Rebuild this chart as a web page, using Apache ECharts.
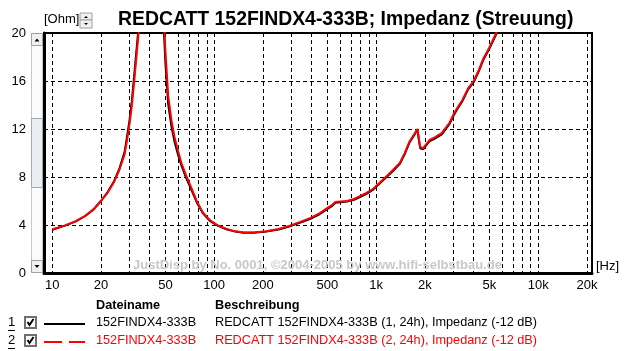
<!DOCTYPE html>
<html>
<head>
<meta charset="utf-8">
<script src="https://cdn.jsdelivr.net/npm/echarts@6/dist/echarts.min.js"></script>
<style>
  html, body { margin: 0; padding: 0; background: #fff; }
  #chart { width: 624px; height: 351px; }
</style>
</head>
<body>
<div id="chart"></div>
<script>
// Messpunkte (Hz)
var freqHz = [10, 12, 14, 16, 18, 20, 22, 24, 26, 28, 29, 30, 31, 32, 33, 34, 36, 39, 42, 45,
  48, 50, 52, 54.5, 57, 60, 63, 67, 72, 78, 85, 94, 105, 119, 135, 152, 175, 210, 250, 290,
  340, 390, 440, 495, 530, 560, 600, 660, 730, 800, 870, 960, 1050, 1160, 1270, 1400, 1500,
  1610, 1720, 1800, 1830, 1870, 1950, 2000, 2140, 2300, 2540, 2830, 3000, 3150, 3400, 3700,
  4000, 4300, 4600, 5000, 5600, 6200];
// Impedanz Messung 1 (schwarz)
var ohm1 = [3.6, 3.95, 4.3, 4.75, 5.3, 6.0, 6.75, 7.6, 8.7, 10.1, 11.4, 12.7, 14.3, 16.3, 18.3, 20.2, 24.5, 30, 32, 29,
  22.5, 17.5, 14.1, 12.2, 10.9, 9.8, 8.9, 7.95, 7.0, 5.9, 5.0, 4.35, 3.95, 3.65, 3.45, 3.36, 3.35, 3.45, 3.62, 3.88,
  4.2, 4.5, 4.85, 5.3, 5.55, 5.85, 5.9, 5.95, 6.1, 6.35, 6.6, 6.95, 7.45, 8.0, 8.5, 9.1, 9.9,
  10.9, 11.5, 11.95, 11.2, 10.4, 10.3, 10.5, 11.0, 11.2, 11.55, 12.4, 13.1, 13.6, 14.3, 15.3,
  15.9, 16.8, 17.8, 18.7, 20.1, 21.2];
// Impedanz Messung 2 (rot)
var ohm2 = [3.62, 3.97, 4.32, 4.77, 5.3, 6.0, 6.7, 7.55, 8.6, 9.9, 11.1, 12.4, 13.9, 15.8, 17.8, 19.7, 24, 29.5, 32, 30,
  23.5, 18.5, 14.8, 12.7, 11.3, 10.1, 9.1, 8.15, 7.15, 6.0, 5.05, 4.4, 3.98, 3.68, 3.47, 3.38, 3.37, 3.48, 3.66, 3.93,
  4.26, 4.57, 4.92, 5.38, 5.63, 5.92, 5.96, 6.0, 6.17, 6.42, 6.67, 7.02, 7.52, 8.07, 8.58, 9.18, 9.98,
  10.98, 11.58, 12.0, 11.3, 10.5, 10.4, 10.6, 11.1, 11.3, 11.65, 12.5, 13.2, 13.7, 14.4, 15.4,
  16.0, 16.9, 17.9, 18.8, 20.2, 21.3];

var xMinHz = 8.9, xMaxHz = 21500;
var xTickHz = [10, 20, 50, 100, 200, 500, 1000, 2000, 5000, 10000, 20000];
var xTickLabels = ['10', '20', '50', '100', '200', '500', '1k', '2k', '5k', '10k', '20k'];
var xGridHz = [];
[10, 100, 1000, 10000].forEach(function (d) {
  for (var k = 1; k <= 9; k++) { if (d * k <= 20000) xGridHz.push(d * k); }
});
xGridHz.push(20000);
var yTicks = [0, 4, 8, 12, 16, 20];

var fontF = '"Liberation Sans", Arial, sans-serif';
var log = function (v) { return Math.log10(v); };
var toXY = function (vals) {
  return freqHz.map(function (f, i) { return [log(f), vals[i]]; });
};
var labelOf = {};
xTickHz.forEach(function (f, i) { labelOf[log(f).toFixed(6)] = xTickLabels[i]; });

var myChart = echarts.init(document.getElementById('chart'), null, { renderer: 'canvas' });

// Legende / Kopf als Grafik
var graphic = [
  { type: 'text', left: 44, top: 13, style: { text: '[Ohm]', font: '13px ' + fontF, fill: '#000' } },
  // Spinner
  { type: 'rect', shape: { x: 80, y: 13, width: 12, height: 7 }, style: { fill: '#f0f0f0', stroke: '#a0a0a0' } },
  { type: 'rect', shape: { x: 80, y: 20, width: 12, height: 8 }, style: { fill: '#f0f0f0', stroke: '#a0a0a0' } },
  { type: 'polygon', shape: { points: [[84, 18], [88, 18], [86, 16]] }, style: { fill: '#000' } },
  { type: 'polygon', shape: { points: [[84, 23], [88, 23], [86, 25]] }, style: { fill: '#000' } },
  // Scrollbar
  { type: 'rect', shape: { x: 31.5, y: 33.5, width: 11, height: 239 }, style: { fill: '#fbfbfb', stroke: '#c8c8c8' } },
  { type: 'rect', shape: { x: 31.5, y: 118.5, width: 11, height: 69 }, style: { fill: '#e8eef1', stroke: '#a8a8a8' } },
  { type: 'rect', shape: { x: 31.5, y: 33.5, width: 11, height: 12 }, style: { fill: '#f0f0f0', stroke: '#a0a0a0' } },
  { type: 'rect', shape: { x: 31.5, y: 260.5, width: 11, height: 12 }, style: { fill: '#f0f0f0', stroke: '#a0a0a0' } },
  { type: 'polygon', shape: { points: [[34.5, 41.5], [39.5, 41.5], [37, 38.5]] }, style: { fill: '#000' } },
  { type: 'polygon', shape: { points: [[34.5, 265], [39.5, 265], [37, 268]] }, style: { fill: '#000' } },
  // Einheiten / Wasserzeichen
  { type: 'text', left: 596, top: 260, style: { text: '[Hz]', font: '13px ' + fontF, fill: '#000' } },
  { type: 'text', left: 133, top: 259, z: 1, style: { text: 'JustDisp by No. 0001, \u00a92004-2005 by www.hifi-selbstbau.de', font: 'bold 13px ' + fontF, fill: '#c8c8c8' } },
  // Kopfzeile
  { type: 'text', left: 96, top: 299, style: { text: 'Dateiname', font: 'bold 12.7px ' + fontF, fill: '#000' } },
  { type: 'text', left: 215, top: 299, style: { text: 'Beschreibung', font: 'bold 12.7px ' + fontF, fill: '#000' } }
];
var rows = [
  { n: '1', y: 323, color: '#000', dash: null, file: '152FINDX4-333B', desc: 'REDCATT 152FINDX4-333B (1, 24h), Impedanz (-12 dB)' },
  { n: '2', y: 341, color: '#ff0000', dash: [18, 7], file: '152FINDX4-333B', desc: 'REDCATT 152FINDX4-333B (2, 24h), Impedanz (-12 dB)' }
];
rows.forEach(function (r) {
  graphic.push(
    { type: 'text', left: 8, top: r.y - 7, style: { text: r.n, font: '13px ' + fontF, fill: '#000' } },
    { type: 'line', shape: { x1: 8, y1: r.y + 7.5, x2: 15, y2: r.y + 7.5 }, style: { stroke: '#000', lineWidth: 1 } },
    { type: 'rect', shape: { x: 25, y: r.y - 6, width: 11, height: 11 }, style: { fill: '#fff', stroke: '#707070', lineWidth: 2 } },
    { type: 'polyline', shape: { points: [[27.5, r.y - 1], [29.5, r.y + 2], [33.5, r.y - 4]] }, style: { stroke: '#000', lineWidth: 2, fill: null } },
    { type: 'line', shape: { x1: 44, y1: r.y + 1, x2: 85, y2: r.y + 1 }, style: { stroke: r.color, lineWidth: 2, lineDash: r.dash } },
    { type: 'text', left: 96, top: r.y - 7, style: { text: r.file, font: '12.7px ' + fontF, fill: r.color } },
    { type: 'text', left: 215, top: r.y - 7, style: { text: r.desc, font: '12.7px ' + fontF, fill: r.color } }
  );
});

var option = {
  backgroundColor: '#fff',
  animation: false,
  title: {
    text: 'REDCATT 152FINDX4-333B; Impedanz (Streuung)',
    left: 113, top: 5,
    textStyle: { fontFamily: fontF, fontSize: 19.4, fontWeight: 'bold', color: '#000' }
  },
  grid: {
    left: 44, right: 32, top: 33, bottom: 78,
    show: true, borderColor: '#000', borderWidth: 2, backgroundColor: 'transparent'
  },
  xAxis: {
    type: 'value',
    min: log(xMinHz), max: log(xMaxHz),
    axisLine: { show: true, onZero: false, lineStyle: { color: '#000', width: 3 } },
    axisTick: { show: false, customValues: xGridHz.map(log) },
    axisLabel: {
      customValues: xTickHz.map(log),
      margin: 6, color: '#000', fontFamily: fontF, fontSize: 13,
      formatter: function (v) { return labelOf[v.toFixed(6)] || ''; }
    },
    splitLine: { show: true, lineStyle: { color: '#000', width: 1, type: [4, 3] } }
  },
  yAxis: {
    type: 'value', min: 0, max: 20, interval: 4,
    axisLine: { show: true, lineStyle: { color: '#000', width: 3 } },
    axisTick: { show: false },
    axisLabel: { margin: 18, color: '#000', fontFamily: fontF, fontSize: 13 },
    splitLine: { show: true, lineStyle: { color: '#000', width: 1, type: [4, 3] } }
  },
  series: [
    {
      name: '1', type: 'line', data: toXY(ohm1), showSymbol: false, smooth: false, clip: true,
      lineStyle: { color: '#000', width: 2 }, z: 3
    },
    {
      name: '2', type: 'line', data: toXY(ohm2), showSymbol: false, smooth: false, clip: true,
      lineStyle: { color: '#ff0000', width: 2 }, z: 4
    }
  ],
  graphic: graphic
};
myChart.setOption(option);
</script>
</body>
</html>
